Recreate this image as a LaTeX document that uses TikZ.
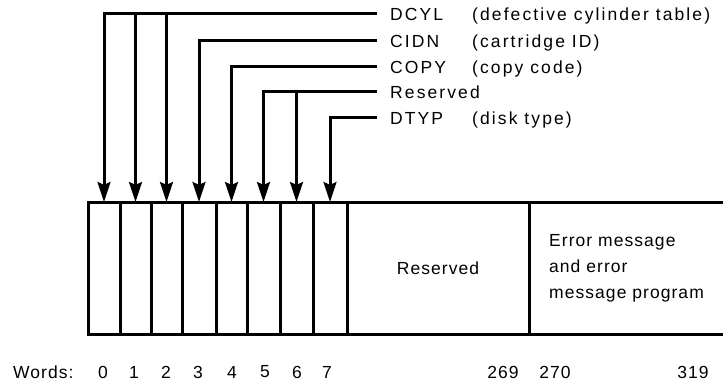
\documentclass[tikz,border=0pt]{standalone}
\usepackage{fontspec}
\setmainfont{Liberation Sans}[LetterSpace=6]
\newfontfamily\upfont{Liberation Sans}[LetterSpace=12]
\usetikzlibrary{arrows.meta}
\tikzset{
  txt/.style={font=\fontsize{17.5}{26}\selectfont, inner sep=0pt},
  cell/.style={draw, line width=3pt, minimum height=132pt, inner sep=0pt, outer sep=0pt, anchor=north west},
  lbl/.style={inner sep=0pt, font=\upfont\fontsize{17.5}{26}\selectfont, anchor=west, text height=12.6pt, text depth=0pt},
  num/.style={txt, anchor=center},
  conn/.style={line width=3pt},
  arr/.style={conn, -{Stealth[length=20pt,width=13pt,inset=3pt]}},
}
\begin{document}
\begin{tikzpicture}[x=1pt,y=-1pt]
\useasboundingbox (0,0) rectangle (723,385);
% cells
\foreach \i/\l/\r in {0/88/120,1/120/151,2/151/182,3/182/216,4/216/247,5/247/280,6/280/313,7/313/347}
  \node[cell, minimum width={\r-\l}] (c\i) at (\l,202) {};
\node[cell, minimum width=182pt, txt, minimum height=132pt] (c8) at (347,202) {Reserved};
\node[cell, draw=none, minimum width=194pt] (c9) at (529,202) {};
\draw[conn] (c9.north east) -- (c9.north west) -- (c9.south west) -- (c9.south east);
\node[txt, anchor=west, align=left] (err) at (549,268) {Error message\\and error\\message program};
% labels
\node[lbl] (l1) at (390,14) {DCYL};
\node[lbl] (l2) at (390,41) {CIDN};
\node[lbl] (l3) at (390,67) {COPY};
\node[lbl] (l4) at (390,92) {Reserved};
\node[lbl] (l5) at (390,118) {DTYP};
\node[lbl] (p1) at (472,14) {(defective cylinder table)};
\node[lbl] (p2) at (472,41) {(cartridge ID)};
\node[lbl] (p3) at (472,67) {(copy code)};
\node[lbl] (p5) at (472,118) {(disk type)};
% connectors
\draw[arr] ([xshift=-13pt]l1.west) -| (c0.north);
\draw[arr] (c1.north |- l1.west) -- (c1.north);
\draw[arr] (c2.north |- l1.west) -- (c2.north);
\draw[arr] ([xshift=-13pt]l2.west) -| (c3.north);
\draw[arr] ([xshift=-13pt]l3.west) -| (c4.north);
\draw[arr] ([xshift=-13pt]l4.west) -| (c5.north);
\draw[arr] (c6.north |- l4.west) -- (c6.north);
\draw[arr] ([xshift=-13pt]l5.west) -| (c7.north);
% words row
\node[txt, anchor=west] (words) at (13,372) {Words:};
\foreach \n/\x in {0/103,1/134,2/166,3/198,4/232,5/265,6/297,7/327,269/503,270/555,319/693}
  \node[num] (w\n) at (\x,372) {\n};
\end{tikzpicture}
\end{document}
